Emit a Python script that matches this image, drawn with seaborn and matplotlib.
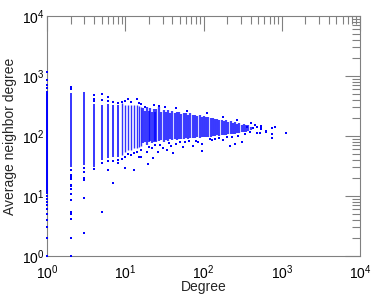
import numpy as np
import pandas as pd
import seaborn as sns
import matplotlib
matplotlib.use('Agg')
import matplotlib.pyplot as plt
from matplotlib.ticker import LogLocator, LogFormatterMathtext, NullFormatter

# degree 1 nodes sit on the left edge (neighbour degree is an integer)
deg1_lo, deg1_hi = 11, 560
deg1_pts = [1, 2, 3, 4, 5, 6, 7, 8, 9, 10, 620, 700, 860, 1170]

# low degrees: every degree is a dense column, lo..hi of the column
col_deg = [2, 3, 4, 5, 6, 7, 8, 9, 10, 11, 12, 13, 14, 15, 16]
col_lo = [30, 33, 31, 40, 43, 44, 44, 48, 55, 58, 58, 62, 62, 65, 68]
col_hi = [515, 535, 340, 330, 340, 330, 330, 350, 330, 330, 325, 330, 330, 320, 310]

# main cloud, dense core per degree
cloud_deg = [17, 18, 19, 20, 21, 22, 23, 24, 25, 27, 29, 31, 33, 35, 37, 40, 43, 46, 49, 52,
             56, 60, 64, 68, 73, 78, 83, 89, 95, 101, 108, 115, 123, 131, 140, 150, 160, 171,
             183, 195, 208, 222, 237, 253, 270, 288, 307, 328, 350, 374, 399]
cloud_lo = [75, 80, 72, 78, 82, 76, 80, 84, 78, 82, 85, 80, 86, 84, 88, 85, 88, 86, 90, 88,
            90, 92, 90, 92, 94, 92, 95, 93, 96, 95, 97, 98, 96, 100, 99, 102, 100, 104,
            103, 105, 106, 108, 107, 110, 112, 112, 115, 117, 118, 122, 125]
cloud_hi = [290, 265, 300, 260, 290, 255, 285, 250, 280, 300, 255, 275, 250, 270, 245, 265, 240, 250, 255, 235,
            240, 245, 225, 238, 222, 228, 215, 222, 210, 215, 205, 208, 200, 200, 190, 195, 185, 188,
            178, 182, 172, 176, 165, 170, 160, 165, 155, 160, 150, 152, 142]

# stray points outside the dense parts
stray_deg = [2, 2, 2, 2, 2, 2, 2, 2, 2, 2, 2, 2, 2, 2, 2, 2,
             3, 3, 3, 3, 3, 3,
             4, 4, 4, 4, 5, 5, 5, 5, 6, 6, 6, 6, 7, 7, 7, 8, 8, 8,
             9, 9, 10, 10, 10, 11, 11, 12, 12, 13, 13, 14, 14, 15, 15, 16, 16, 16,
             17.9, 19.8, 18.7, 21.7, 22.9, 23, 26, 27, 32, 34, 41, 45, 55, 61, 73.5, 94.5, 96,
             110, 127, 178, 178, 217, 250, 265, 310, 340, 355, 390, 410, 430, 455, 480, 480,
             525, 540, 550, 550, 625, 625, 740, 745, 750, 755, 830, 1150,
             20, 24, 28, 30, 36, 38, 44, 50, 58, 66, 80, 86, 120, 140, 160, 200, 230, 280]
stray_knn = [600, 665, 27, 22.4, 20.7, 19.2, 15.2, 14.7, 13, 10.7, 8.6, 5.5, 5.1, 4.1, 2.0, 1.0,
             29, 25, 20, 18.5, 9.3, 2.4,
             390, 420, 480, 28, 400, 500, 36, 5.5, 380, 440, 27, 38, 38, 16.7, 370, 36, 40, 360,
             370, 42, 29, 45, 380, 410, 50, 48, 370, 27, 52, 410, 55, 45, 360, 343, 58, 45,
             307, 33.8, 55, 62, 43.6, 330, 55, 318, 300, 58, 52.6, 290, 66, 260, 67.7, 56.9, 73,
             240, 86, 86, 205, 68, 73, 185, 78, 107, 142, 118, 162, 134, 153, 143, 111,
             111, 148, 129, 134, 118, 120, 134, 108, 91, 134, 139, 114,
             66, 70, 72, 64, 76, 68, 74, 80, 78, 82, 84, 80, 88, 90, 92, 95, 98, 100]

sns.set_style('white')
plt.rcParams['font.family'] = ['Liberation Sans', 'DejaVu Sans']
plt.rcParams['mathtext.fontset'] = 'custom'
plt.rcParams['mathtext.rm'] = 'Liberation Sans'

blue = '#0000ff'
grey = '#808080'

fig = plt.figure(figsize=(3.74, 2.96), dpi=100)
ax = fig.add_axes([47 / 374, 40 / 296, 313 / 374, 240 / 296])

ax.vlines([1], deg1_lo, deg1_hi, color=blue, lw=1.4, clip_on=False, zorder=4)
ax.vlines(col_deg[:7], col_lo[:7], col_hi[:7], color=blue, lw=1.1, zorder=3)
ax.vlines(col_deg[7:], col_lo[7:], col_hi[7:], color=blue, lw=1.0, alpha=0.8, zorder=3)
ax.vlines(cloud_deg, cloud_lo, cloud_hi, color=blue, lw=1.6, alpha=0.75, zorder=3)
sns.scatterplot(x=[1] * len(deg1_pts), y=deg1_pts, marker='s', s=3, color=blue,
                linewidth=0, ax=ax, clip_on=False, zorder=4)
sns.scatterplot(x=stray_deg, y=stray_knn, marker='s', s=2.5, color=blue,
                linewidth=0, ax=ax, zorder=3)

ax.set_xscale('log')
ax.set_yscale('log')
ax.set_xlim(1, 1e4)
ax.set_ylim(1, 1e4)

for axis in (ax.xaxis, ax.yaxis):
    axis.set_major_locator(LogLocator(base=10, numticks=10))
    axis.set_minor_locator(LogLocator(base=10, subs=np.arange(2, 10), numticks=10))
    axis.set_major_formatter(LogFormatterMathtext())
    axis.set_minor_formatter(NullFormatter())

ax.tick_params(which='both', direction='in', top=True, right=True, color=grey,
               labelsize=10, labelcolor='black')
ax.tick_params(which='major', length=11, width=0.8)
ax.tick_params(which='minor', length=5.5, width=0.8)
ax.tick_params(axis='x', pad=5)
ax.tick_params(axis='y', pad=2)
for sp in ax.spines.values():
    sp.set_color(grey)
    sp.set_linewidth(0.8)

ax.set_xlabel('Degree', fontsize=10, labelpad=-1)
ax.set_ylabel('Average neighbor degree', fontsize=10, labelpad=3)

fig.savefig('out.png', dpi=100)
